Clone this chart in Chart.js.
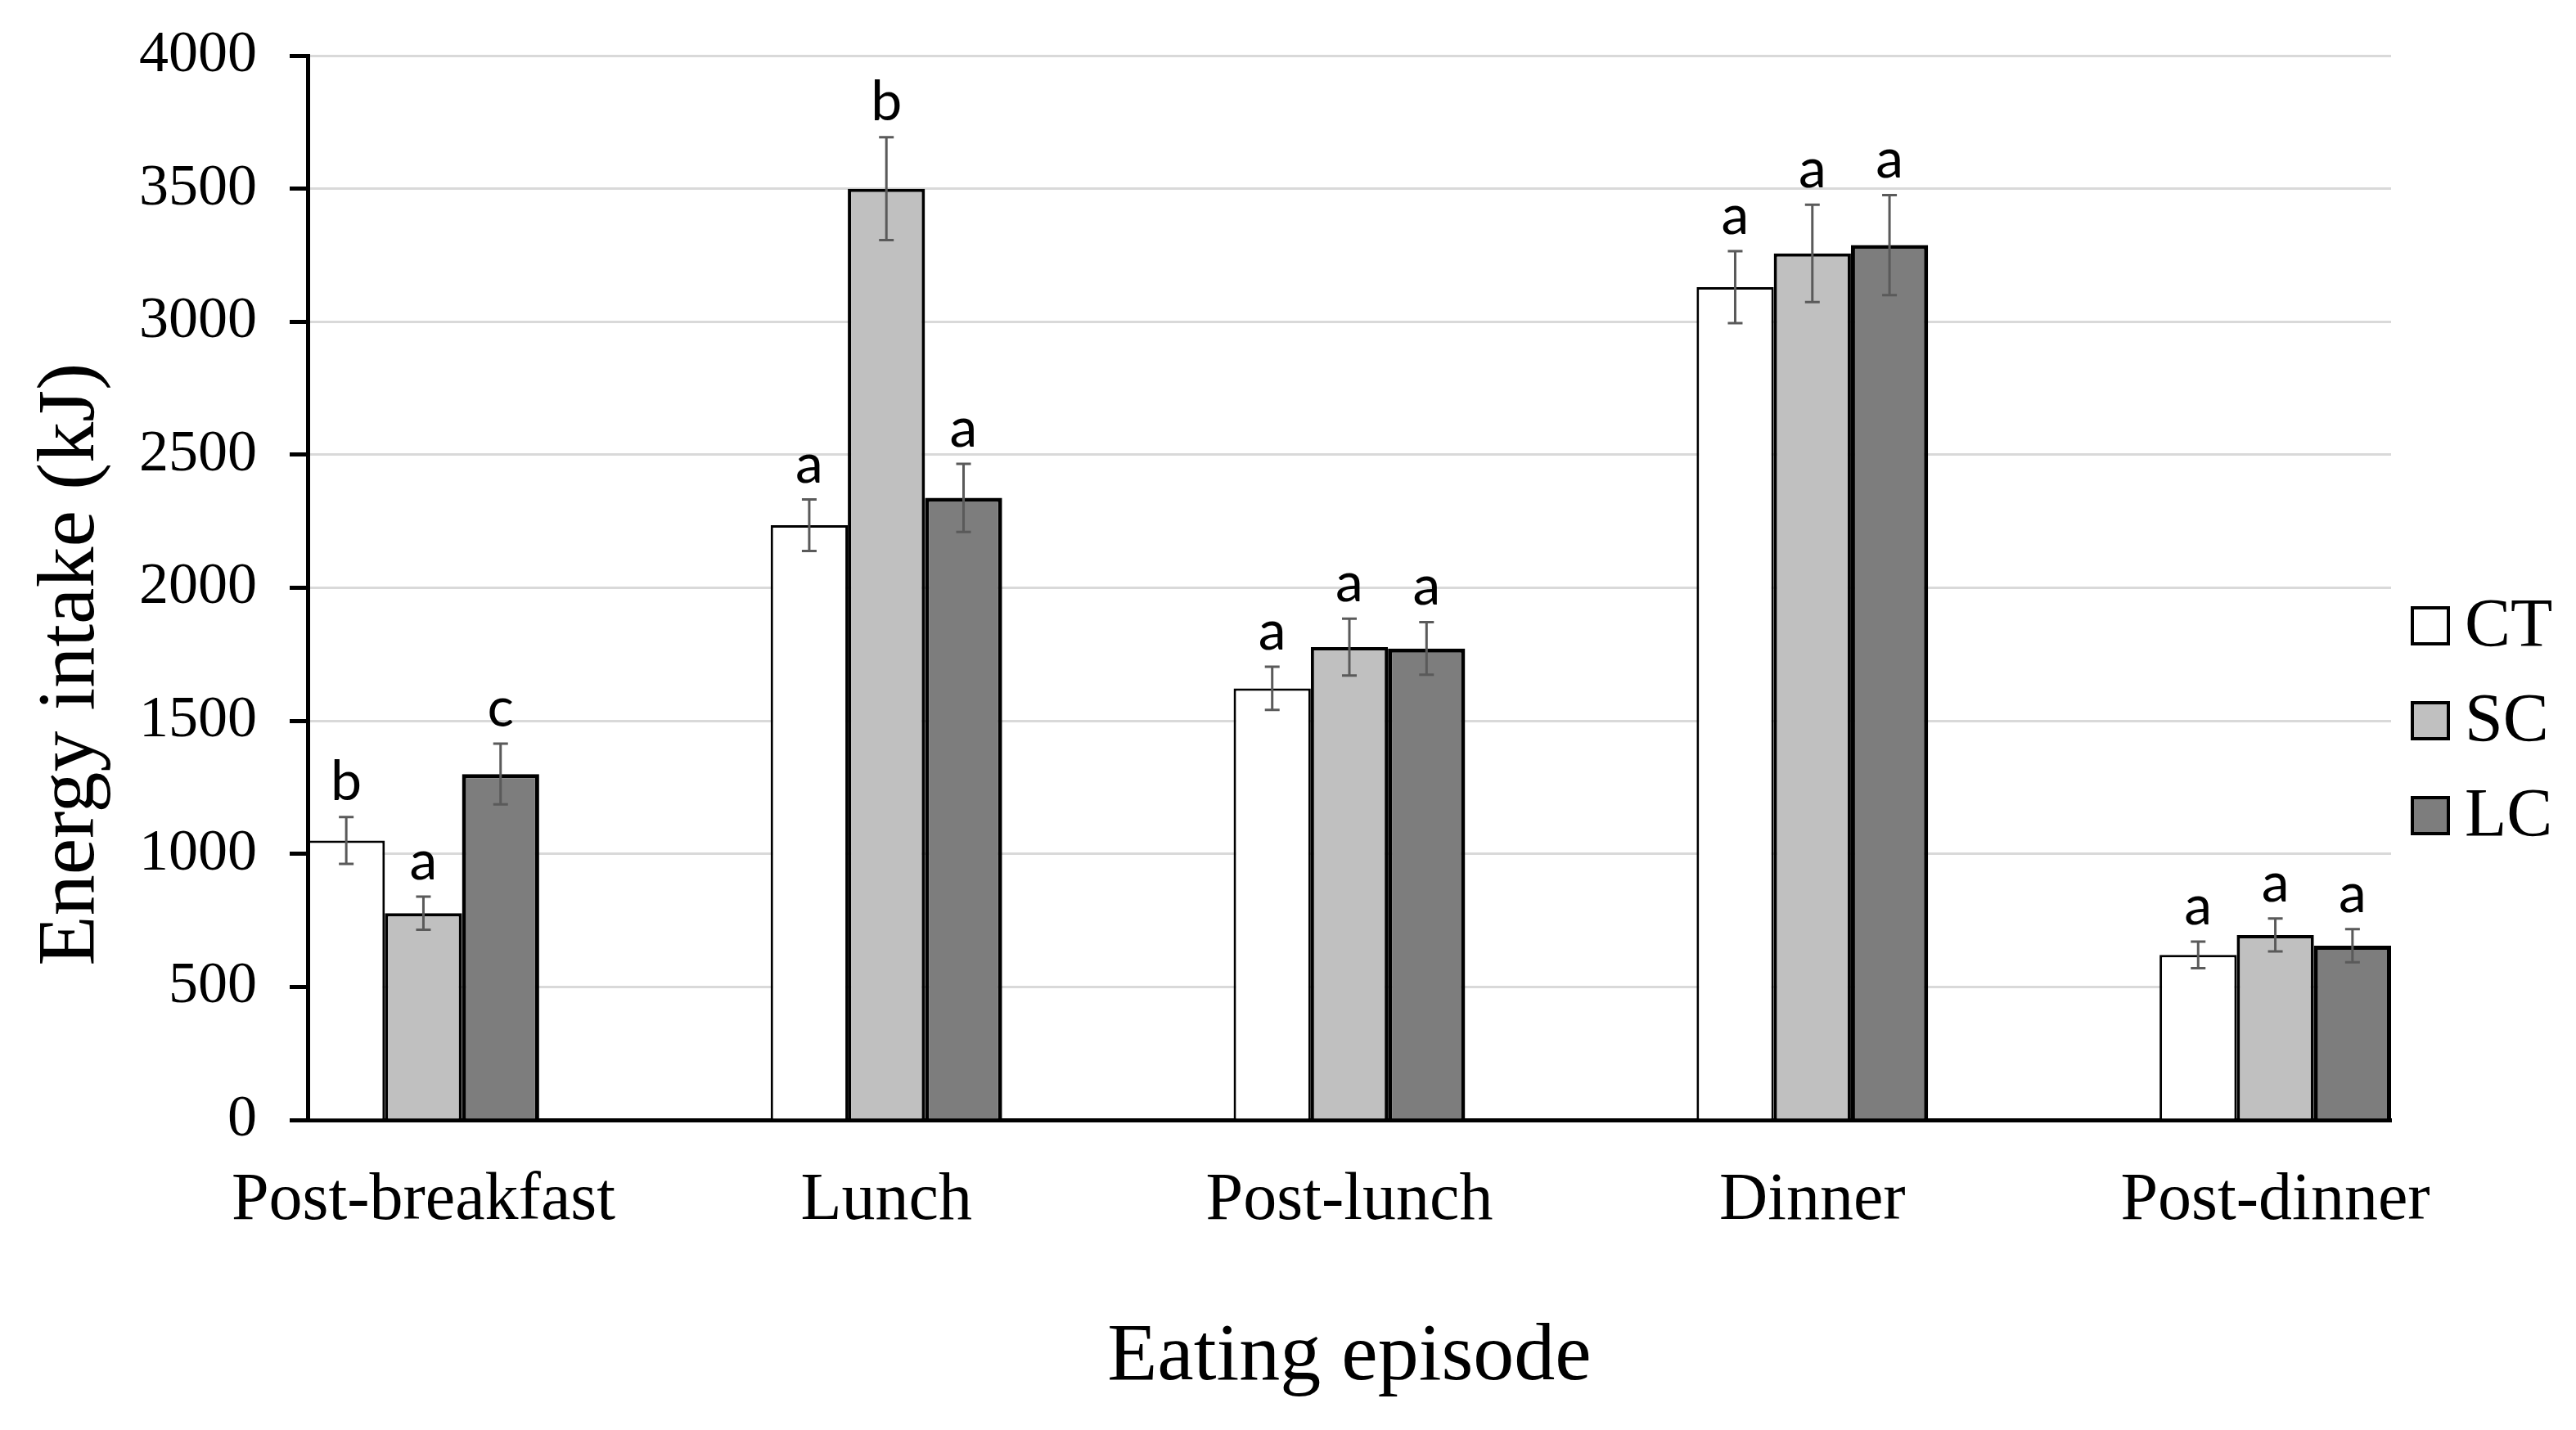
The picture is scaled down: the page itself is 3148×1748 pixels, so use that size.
<!DOCTYPE html>
<html>
<head>
<meta charset="utf-8">
<title>Energy intake by eating episode</title>
<script src="https://cdn.jsdelivr.net/npm/chart.js@4.4.1/dist/chart.umd.min.js"></script>
<style>
  html, body { margin: 0; padding: 0; background: #fff; }
  #wrap { width: 3148px; height: 1748px; }
</style>
</head>
<body>
<div id="wrap"><canvas id="energyChart"></canvas></div>
<script>
const episodes = ['Post-breakfast', 'Lunch', 'Post-lunch', 'Dinner', 'Post-dinner'];
const groups = ['CT', 'SC', 'LC'];

// mean energy intake (kJ) and error (SE) per eating episode
const ctMean = [1050, 2235, 1622, 3130, 620];
const ctErr = [88, 97, 81, 135, 50];
const scMean = [777, 3500, 1777, 3257, 695];
const scErr = [62, 193, 107, 183, 62];
const lcMean = [1300, 2338, 1772, 3288, 655];
const lcErr = [114, 128, 99, 188, 62];

// significance letters over each bar
const ctLetters = ['b', 'a', 'a', 'a', 'a'];
const scLetters = ['a', 'b', 'a', 'a', 'a'];
const lcLetters = ['c', 'a', 'a', 'a', 'a'];

const yTicks = [0, 500, 1000, 1500, 2000, 2500, 3000, 3500, 4000];
const yTitle = 'Energy intake (kJ)';

const serif = 'Liberation Serif';

function toPoints(values) {
    return values.map((v, i) => ({ x: i, y: v }));
}

const errorBars = {
    id: 'errorBars',
    afterDatasetsDraw(chart) {
        const ctx = chart.ctx;
        const y = chart.scales.y;
        chart.data.datasets.forEach((ds, di) => {
            const meta = chart.getDatasetMeta(di);
            meta.data.forEach((bar, i) => {
                const v = ds.data[i].y;
                const e = ds.errors[i];
                const top = y.getPixelForValue(v + e);
                const bot = y.getPixelForValue(v - e);
                ctx.save();
                ctx.strokeStyle = '#5a5a5a';
                ctx.lineWidth = 3;
                ctx.beginPath();
                ctx.moveTo(bar.x, top);
                ctx.lineTo(bar.x, bot);
                ctx.moveTo(bar.x - 9, top);
                ctx.lineTo(bar.x + 9, top);
                ctx.moveTo(bar.x - 9, bot);
                ctx.lineTo(bar.x + 9, bot);
                ctx.stroke();
                ctx.fillStyle = '#000';
                ctx.font = '68px Lato';
                ctx.textAlign = 'center';
                ctx.textBaseline = 'alphabetic';
                ctx.fillText(ds.letters[i], bar.x, top - 21);
                ctx.restore();
            });
        });
    }
};

// legend to the right of the plot and the y title, which sits below the axis middle
const sideLegend = {
    id: 'sideLegend',
    afterDraw(chart) {
        const ctx = chart.ctx;
        const x = chart.chartArea.right + 26;
        const firstY = 765;
        const step = 116;
        const size = 44;
        chart.data.datasets.forEach((ds, i) => {
            const cy = firstY + i * step;
            ctx.save();
            ctx.fillStyle = ds.backgroundColor;
            ctx.fillRect(x, cy - size / 2, size, size);
            ctx.strokeStyle = '#000';
            ctx.lineWidth = 4;
            ctx.strokeRect(x, cy - size / 2, size, size);
            ctx.fillStyle = '#000';
            ctx.font = '84px "' + serif + '"';
            ctx.textAlign = 'left';
            ctx.textBaseline = 'middle';
            ctx.fillText(ds.label, x + size + 20, cy + 3);
            ctx.restore();
        });

        ctx.save();
        ctx.translate(88, 812);
        ctx.rotate(-Math.PI / 2);
        ctx.fillStyle = '#000';
        ctx.font = '100px "' + serif + '"';
        ctx.textAlign = 'center';
        ctx.textBaseline = 'middle';
        ctx.fillText(yTitle, 0, 0);
        ctx.restore();
    }
};

const ctx = document.getElementById('energyChart').getContext('2d');

new Chart(ctx, {
    type: 'bar',
    data: {
        datasets: [
            {
                label: groups[0],
                data: toPoints(ctMean),
                errors: ctErr,
                letters: ctLetters,
                backgroundColor: '#ffffff',
                borderColor: '#000',
                borderWidth: 3
            },
            {
                label: groups[1],
                data: toPoints(scMean),
                errors: scErr,
                letters: scLetters,
                backgroundColor: '#c0c0c0',
                borderColor: '#000',
                borderWidth: 4
            },
            {
                label: groups[2],
                data: toPoints(lcMean),
                errors: lcErr,
                letters: lcLetters,
                backgroundColor: '#7d7d7d',
                borderColor: '#000',
                borderWidth: 5
            }
        ]
    },
    options: {
        responsive: true,
        maintainAspectRatio: false,
        devicePixelRatio: 1,
        animation: false,
        layout: { padding: { top: 68, left: 0, right: 226, bottom: 28 } },
        datasets: {
            bar: { barPercentage: 1, categoryPercentage: 0.5 }
        },
        plugins: {
            legend: { display: false },
            tooltip: { enabled: false }
        },
        scales: {
            x: {
                type: 'linear',
                min: -0.25,
                max: 4.25,
                offset: false,
                afterBuildTicks: s => { s.ticks = episodes.map((_, i) => ({ value: i })); },
                afterFit: s => { s.height = 351; },
                ticks: {
                    callback: v => episodes[v],
                    autoSkip: false,
                    maxRotation: 0,
                    padding: 50,
                    color: '#000',
                    font: { family: serif, size: 82 }
                },
                grid: { display: false, drawTicks: false, offset: false },
                border: { color: '#000', width: 5 },
                title: {
                    display: true,
                    text: 'Eating episode',
                    color: '#000',
                    font: { family: serif, size: 100 },
                    padding: { top: 74, bottom: 0 }
                }
            },
            y: {
                min: 0,
                max: 4000,
                afterBuildTicks: s => { s.ticks = yTicks.map(v => ({ value: v })); },
                afterFit: s => {
                    s.width = 376;
                    s.paddingTop = 0;
                    s.paddingBottom = 0;
                },
                ticks: {
                    callback: v => String(v),
                    padding: 40,
                    color: '#000',
                    font: { family: serif, size: 72 }
                },
                grid: {
                    color: '#d9d9d9',
                    lineWidth: 3,
                    tickColor: '#000',
                    tickWidth: 5,
                    tickLength: 22
                },
                border: { color: '#000', width: 5 }
            }
        }
    },
    plugins: [errorBars, sideLegend]
});
</script>
</body>
</html>
